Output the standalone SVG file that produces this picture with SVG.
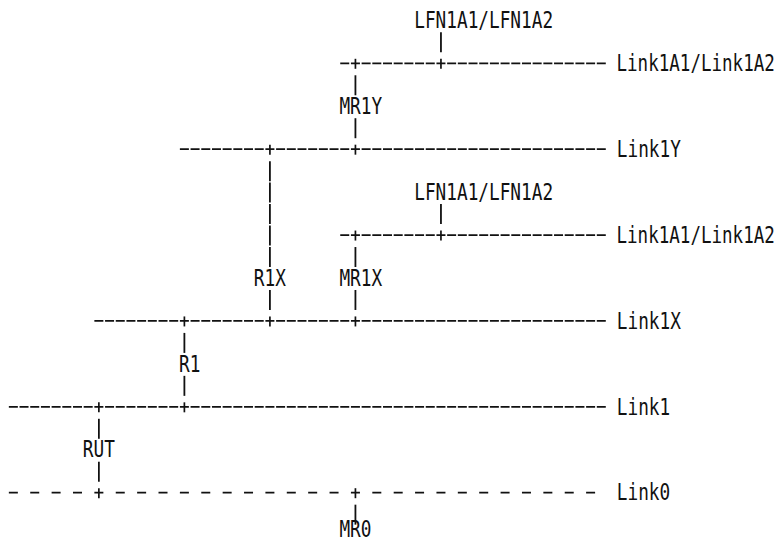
<svg xmlns="http://www.w3.org/2000/svg" width="779" height="543" viewBox="0 0 779 543">
  <style>
    text { font-family: "DejaVu Sans Mono", "Liberation Mono", monospace; font-size: 22.5px; fill: #111; }
    .bus { stroke: #111; stroke-width: 1.7; fill: none; stroke-dasharray: 9 1.69; }
    .bus0 { stroke: #111; stroke-width: 1.7; fill: none; stroke-dasharray: 9 12.38; }
    .stem { stroke: #111; stroke-width: 1.8; fill: none; }
    .tick { stroke: #111; stroke-width: 1.7; fill: none; }
  </style>
  <rect width="779" height="543" fill="#fff"/>

  <!-- grid: column c starts at 8 + 10.69c, row r sits on y = 20.36 + 21.47r;
       labels are condensed horizontally (scale 0.789) so each glyph fills one 10.69 px cell -->
  <g id="connectors">
    <!-- links (horizontal buses) -->
    <line class="bus" x1="340.24" y1="63.30" x2="605.79" y2="63.30"/>
    <line class="bus" x1="179.89" y1="149.18" x2="605.79" y2="149.18"/>
    <line class="bus" x1="340.24" y1="235.06" x2="605.79" y2="235.06"/>
    <line class="bus" x1="94.37" y1="320.94" x2="605.79" y2="320.94"/>
    <line class="bus" x1="8.85" y1="406.82" x2="605.79" y2="406.82"/>
    <line class="bus0" x1="8.85" y1="492.70" x2="595.10" y2="492.70"/>

    <!-- attachment points (+) -->
    <g class="tick">
      <line x1="355.43" y1="58.8" x2="355.43" y2="68.8"/>
      <line x1="440.95" y1="58.8" x2="440.95" y2="68.8"/>
      <line x1="269.91" y1="144.68" x2="269.91" y2="154.68"/>
      <line x1="355.43" y1="144.68" x2="355.43" y2="154.68"/>
      <line x1="355.43" y1="230.56" x2="355.43" y2="240.56"/>
      <line x1="440.95" y1="230.56" x2="440.95" y2="240.56"/>
      <line x1="184.39" y1="316.44" x2="184.39" y2="326.44"/>
      <line x1="269.91" y1="316.44" x2="269.91" y2="326.44"/>
      <line x1="355.43" y1="316.44" x2="355.43" y2="326.44"/>
      <line x1="98.87" y1="402.32" x2="98.87" y2="412.32"/>
      <line x1="184.39" y1="402.32" x2="184.39" y2="412.32"/>
      <line x1="98.87" y1="488.2" x2="98.87" y2="498.2"/>
      <line x1="355.43" y1="488.2" x2="355.43" y2="498.2"/>
    </g>

    <!-- vertical stems (|) -->
    <g class="stem">
      <!-- LFN1A1/LFN1A2 to upper Link1A1/Link1A2 -->
      <line x1="440.95" y1="32.33" x2="440.95" y2="52.33"/>
      <!-- MR1Y -->
      <line x1="355.43" y1="75.27" x2="355.43" y2="95.27"/>
      <line x1="355.43" y1="118.21" x2="355.43" y2="138.21"/>
      <!-- R1X -->
      <line x1="269.91" y1="161.15" x2="269.91" y2="181.15"/>
      <line x1="269.91" y1="182.62" x2="269.91" y2="202.62"/>
      <line x1="269.91" y1="204.09" x2="269.91" y2="224.09"/>
      <line x1="269.91" y1="225.56" x2="269.91" y2="245.56"/>
      <line x1="269.91" y1="247.03" x2="269.91" y2="267.03"/>
      <line x1="269.91" y1="289.97" x2="269.91" y2="309.97"/>
      <!-- LFN1A1/LFN1A2 to lower Link1A1/Link1A2 -->
      <line x1="440.95" y1="204.09" x2="440.95" y2="224.09"/>
      <!-- MR1X -->
      <line x1="355.43" y1="247.03" x2="355.43" y2="267.03"/>
      <line x1="355.43" y1="289.97" x2="355.43" y2="309.97"/>
      <!-- R1 -->
      <line x1="184.39" y1="332.91" x2="184.39" y2="352.91"/>
      <line x1="184.39" y1="375.85" x2="184.39" y2="395.85"/>
      <!-- RUT -->
      <line x1="98.87" y1="418.79" x2="98.87" y2="438.79"/>
      <line x1="98.87" y1="461.73" x2="98.87" y2="481.73"/>
      <!-- MR0 -->
      <line x1="355.43" y1="504.67" x2="355.43" y2="524.67"/>
    </g>
  </g>

  <!-- hosts and routers -->
  <g id="lfn1a-upper"><text transform="translate(414.22 28.06) scale(0.7892 1)">LFN1A1/LFN1A2</text></g>
  <g id="mr1y"><text transform="translate(339.39 113.94) scale(0.7892 1)">MR1Y</text></g>
  <g id="lfn1a-lower"><text transform="translate(414.22 199.82) scale(0.7892 1)">LFN1A1/LFN1A2</text></g>
  <g id="r1x"><text transform="translate(253.87 285.7) scale(0.7892 1)">R1X</text></g>
  <g id="mr1x"><text transform="translate(339.39 285.7) scale(0.7892 1)">MR1X</text></g>
  <g id="r1"><text transform="translate(179.04 371.58) scale(0.7892 1)">R1</text></g>
  <g id="rut"><text transform="translate(82.83 457.46) scale(0.7892 1)">RUT</text></g>
  <g id="mr0"><text transform="translate(339.39 537) scale(0.7892 1)">MR0</text></g>

  <!-- link names -->
  <g id="link1a-upper"><text transform="translate(616.5 71) scale(0.78 1)">Link1A1/Link1A2</text></g>
  <g id="link1y"><text transform="translate(616.8 156.88) scale(0.7892 1)">Link1Y</text></g>
  <g id="link1a-lower"><text transform="translate(616.5 242.76) scale(0.78 1)">Link1A1/Link1A2</text></g>
  <g id="link1x"><text transform="translate(616.8 328.64) scale(0.7892 1)">Link1X</text></g>
  <g id="link1"><text transform="translate(616.8 414.52) scale(0.7892 1)">Link1</text></g>
  <g id="link0"><text transform="translate(616.8 500.4) scale(0.7892 1)">Link0</text></g>
</svg>
